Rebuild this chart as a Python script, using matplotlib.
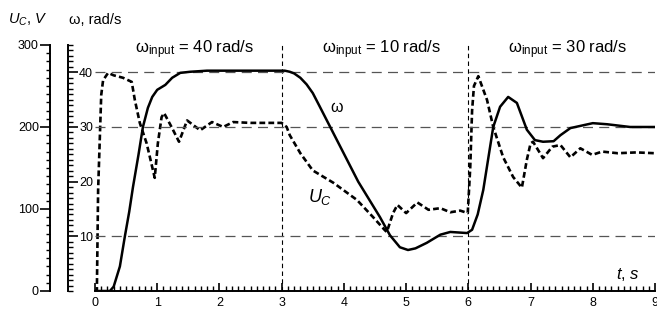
import matplotlib
matplotlib.use("Agg")
import matplotlib.pyplot as plt
from matplotlib.ticker import MultipleLocator, FixedLocator

plt.rcParams['font.family'] = ['Liberation Sans', 'DejaVu Sans']
plt.rcParams['mathtext.fontset'] = 'custom'
plt.rcParams['mathtext.rm'] = 'Liberation Sans'
plt.rcParams['mathtext.it'] = 'Liberation Sans:italic'

# rotor speed, rad/s
t_w = [0, 0.24, 0.3, 0.4, 0.48, 0.55, 0.61, 0.7, 0.77, 0.85, 0.92, 1.0, 1.13, 1.24,
       1.37, 1.53, 1.8, 2.2, 2.6, 3.05, 3.13, 3.2, 3.3, 3.4, 3.5, 3.6, 3.78, 4.23,
       4.58, 4.74, 4.9, 5.03, 5.15, 5.33, 5.55, 5.71, 5.98, 6.06, 6.15, 6.24, 6.4,
       6.51, 6.64, 6.78, 6.94, 7.07, 7.2, 7.37, 7.48, 7.64, 7.8, 8.0, 8.23, 8.6, 9.0]
w = [0, 0, 0.8, 4.5, 10, 14.5, 19, 25, 30, 33.5, 35.5, 36.8, 37.7, 39,
     39.9, 40.1, 40.3, 40.3, 40.3, 40.3, 40.1, 39.8, 39.0, 37.8, 36.2, 34.0, 30, 20,
     13.5, 10.2, 8.0, 7.5, 7.8, 8.8, 10.3, 10.8, 10.6, 11.2, 14, 18.5, 30,
     33.7, 35.5, 34.4, 29.5, 27.6, 27.3, 27.4, 28.5, 29.8, 30.2, 30.7, 30.5, 30.0, 30.0]

# capacitor voltage, V
t_u = [0, 0.03, 0.05, 0.1, 0.13, 0.21, 0.3, 0.45, 0.59, 0.64, 0.72, 0.83, 0.92, 0.96,
       1.01, 1.07, 1.11, 1.23, 1.35, 1.48, 1.69, 1.88, 2.06, 2.22, 2.5, 2.8, 3.0, 3.08,
       3.13, 3.3, 3.5, 3.83, 4.21, 4.47, 4.66, 4.69, 4.79, 4.86, 5.0, 5.18, 5.36, 5.55,
       5.71, 5.87, 5.99, 6.03, 6.06, 6.09, 6.16, 6.3, 6.4, 6.56, 6.72, 6.86, 6.94, 7.0,
       7.04, 7.2, 7.35, 7.48, 7.64, 7.8, 7.99, 8.15, 8.4, 8.7, 9.0]
u = [0, 0, 123, 239, 257, 266, 263, 260, 255, 233, 205, 180, 151, 138,
     180, 212, 217, 200, 182, 208, 196, 206, 200, 206, 205, 205, 205, 200,
     190, 168, 147, 132, 111, 90, 74, 72, 95, 105, 95, 108, 99, 101,
     96, 98, 95, 150, 220, 250, 262, 233, 200, 163, 139, 126, 160, 180,
     182, 162, 176, 178, 163, 174, 166, 170, 168, 169, 168]

w_ref = [10, 30, 40]
t_switch = [3, 6]
labels = [(1.6, r'ω$_{\rm input}$ = 40 rad/s'),
          (4.6, r'ω$_{\rm input}$ = 10 rad/s'),
          (7.6, r'ω$_{\rm input}$ = 30 rad/s')]

fig = plt.figure(figsize=(6.57, 3.15), dpi=100)
ax = fig.add_axes([0.1446, 0.0762, 0.8524, 0.781])
ax2 = ax.twinx()

ax.set_xlim(0, 9); ax.set_ylim(0, 300)
ax2.set_ylim(0, 45)

for s in ['top', 'right']:
    ax.spines[s].set_visible(False)
for s in ['top', 'left', 'bottom']:
    ax2.spines[s].set_visible(False)
ax.spines['left'].set_position(('axes', -0.0804))
ax2.spines['right'].set_position(('axes', -0.0482))
for sp in [ax.spines['left'], ax.spines['bottom'], ax2.spines['right']]:
    sp.set_linewidth(1.4)

ax.xaxis.set_major_locator(MultipleLocator(1))
ax.xaxis.set_minor_locator(MultipleLocator(0.1))
ax.tick_params(axis='x', which='major', direction='in', length=6, width=1.2, labelsize=9, pad=4)
ax.tick_params(axis='x', which='minor', direction='in', length=3.5, width=1)
ax.yaxis.set_major_locator(MultipleLocator(100))
ax.yaxis.set_minor_locator(MultipleLocator(10))
ax.tick_params(axis='y', which='major', direction='out', length=7, width=1.2, labelsize=9, pad=1)
ax.tick_params(axis='y', which='minor', direction='out', length=3, width=1)

ax2.yaxis.set_major_locator(FixedLocator([10, 20, 30, 40]))
ax2.yaxis.set_minor_locator(MultipleLocator(1))
ax2.tick_params(axis='y', which='major', direction='out', length=7, width=1.2, labelsize=9, pad=1)
ax2.tick_params(axis='y', which='minor', direction='out', length=3.5, width=1)

for v in w_ref:
    ax2.axhline(v, color='#555555', lw=0.9, ls=(0, (8, 5)), zorder=1)
for tv in t_switch:
    ax.axvline(tv, color='black', lw=0.8, ls=(0, (4, 3)), zorder=1)

ax2.plot(t_w, w, color='black', lw=1.8, zorder=3)
ax.plot(t_u, u, color='black', lw=1.9, ls=(0, (2.2, 1.2)), zorder=3)

for tx, txt in labels:
    ax.text(tx, 294, txt, ha='center', va='center', fontsize=12)
ax.text(3.89, 224, 'ω', ha='center', va='center', fontsize=11.5)
ax.text(3.62, 115, r'$U_C$', ha='center', va='center', fontsize=13)
ax.text(8.76, 20, r'$t$, $s$', ha='right', va='center', fontsize=12)

fig.text(8 / 657, 1 - 20 / 315, r'$U_C$, $V$', ha='left', va='center', fontsize=10.5)
fig.text(69 / 657, 1 - 20 / 315, 'ω, rad/s', ha='left', va='center', fontsize=10.5)

fig.savefig('out.png', dpi=100)
